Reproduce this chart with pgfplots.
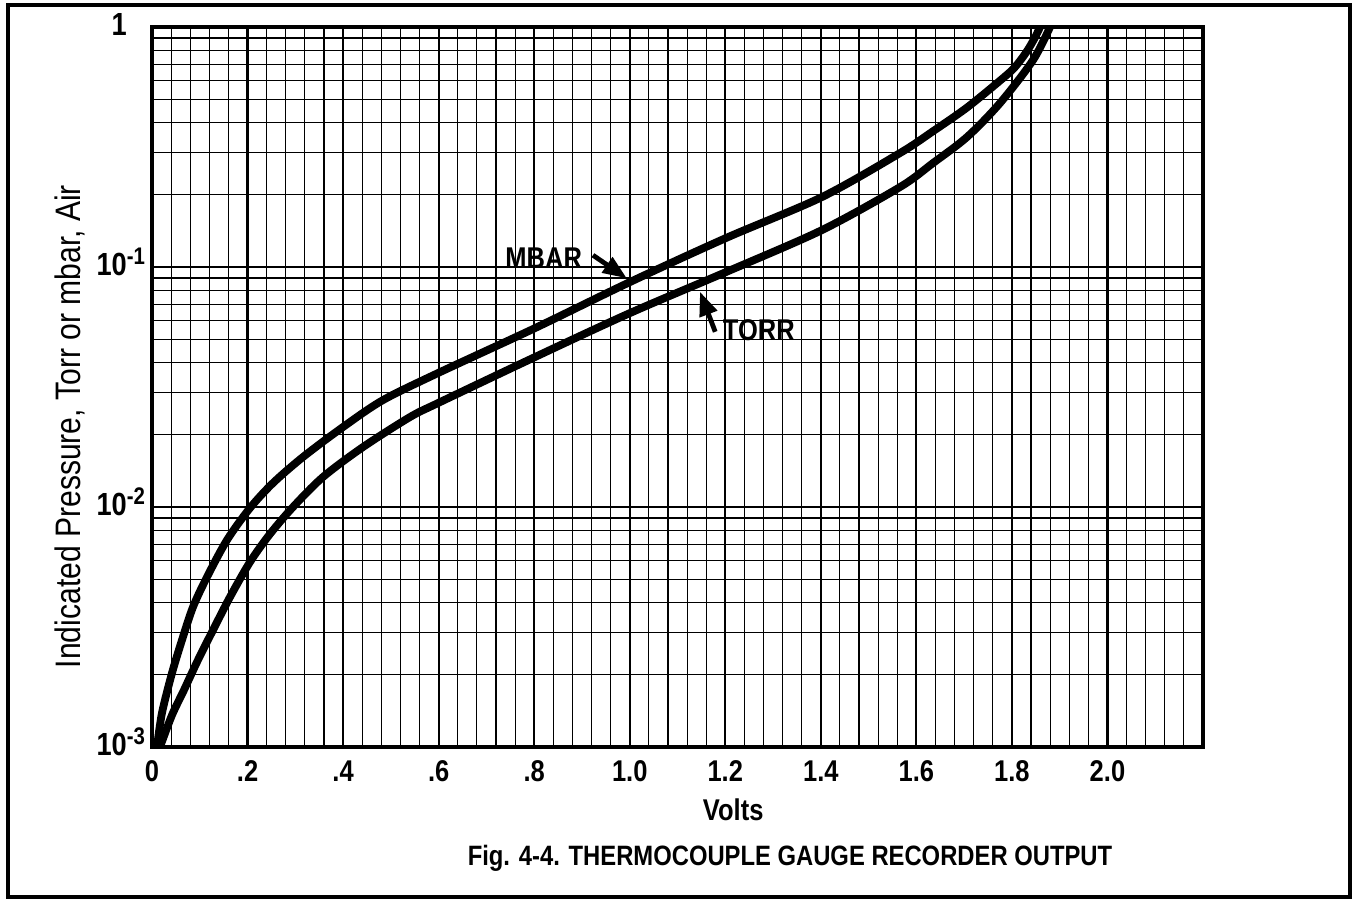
\documentclass[border=0pt]{standalone}
\usepackage{pgfplots}
\pgfplotsset{compat=1.18}
\usepackage{fontspec}
\setmainfont{Liberation Sans}[FakeStretch=0.85]
\usetikzlibrary{arrows.meta}
\newcommand{\supr}[1]{\raisebox{0.62ex}{\fontsize{12}{13}\selectfont #1}}
\begin{document}
\begin{tikzpicture}
\useasboundingbox (-76pt,-78.5pt) rectangle (600.5pt,373.5pt);
\draw[line width=1.6pt] (-72pt,-75pt) rectangle (599pt,371pt);
\begin{axis}[
  at={(0pt,0pt)}, anchor=south west,
  scale only axis, width=525.5pt, height=360pt,
  xmin=0, xmax=2.2, ymin=1e-3, ymax=1, ymode=log,
  xtick={0,0.2,0.4,0.6,0.8,1.0,1.2,1.4,1.6,1.8,2.0,2.2},
  xticklabels={0,.2,.4,.6,.8,1.0,1.2,1.4,1.6,1.8,2.0,{}},
  minor x tick num=4,
  ytick={0.001,0.01,0.1,1},
  minor ytick={0.002,0.003,0.004,0.005,0.006,0.007,0.008,0.009,
               0.02,0.03,0.04,0.05,0.06,0.07,0.08,0.09,
               0.2,0.3,0.4,0.5,0.6,0.7,0.8,0.9},
  yticklabels={10\supr{-3},10\supr{-2},10\supr{-1},1\phantom{\supr{-1}}},
  grid=both,
  major grid style={line width=1.1pt,black},
  minor grid style={line width=0.55pt,black},
  axis line style={line width=1.8pt},
  major tick length=0pt, minor tick length=0pt,
  typeset ticklabels with strut,
  xticklabel style={font=\bfseries\fontsize{15}{17}\selectfont, yshift=-2pt},
  yticklabel style={font=\bfseries\fontsize{16}{18}\selectfont},
  xlabel={Volts},
  xlabel style={at={(axis description cs:0.553,-0.0875)},anchor=center,font=\bfseries\fontsize{15}{17}\selectfont},
  ylabel={Indicated Pressure, Torr or mbar, Air},
  ylabel style={at={(axis description cs:-0.078,0.445)},anchor=center,font=\fontsize{17.7}{20}\selectfont},
  title={Fig. 4-4. THERMOCOUPLE GAUGE RECORDER OUTPUT},
  title style={at={(axis description cs:0.607,-0.171)},anchor=center,font=\bfseries\fontsize{14}{16}\selectfont},
]
% MBAR
\addplot[black, line width=3.9pt, smooth, tension=0.5] coordinates {
(0.0105,0.001) (0.0209,0.001387) (0.0419,0.002034) (0.0628,0.002792) (0.0858,0.003830)
(0.1151,0.005108) (0.1570,0.007286) (0.2052,0.009908) (0.2533,0.01259) (0.3161,0.01616)
(0.3998,0.02154) (0.4836,0.02790) (0.5987,0.03616) (0.8018,0.05566) (1.0006,0.08660)
(1.2016,0.1321) (1.4026,0.1958) (1.5658,0.2985) (1.6349,0.368) (1.7061,0.462)
(1.7752,0.598) (1.8050,0.676) (1.8300,0.785) (1.8480,0.902) (1.8589,1.0)
};
% TORR
\addplot[black, line width=3.9pt, smooth, tension=0.5] coordinates {
(0.0167,0.001) (0.0419,0.001359) (0.0670,0.001728) (0.0942,0.002260) (0.1256,0.003013)
(0.1633,0.004217) (0.2052,0.005902) (0.2470,0.007719) (0.2952,0.0100) (0.3580,0.01334)
(0.4417,0.01778) (0.5401,0.02371) (0.5987,0.02711) (0.8018,0.04217) (1.0006,0.06431)
(1.2016,0.09530) (1.4026,0.1426) (1.5658,0.2154) (1.6349,0.2712) (1.7061,0.3481)
(1.7752,0.4822) (1.8443,0.7286) (1.8798,1.0)
};
\draw[line width=2.4pt,-{Triangle[length=12pt,width=9pt]}] (axis cs:0.923,0.112) -- (axis cs:0.994,0.0897);
\node[anchor=east,inner sep=1pt,font=\bfseries\fontsize{15}{17}\selectfont] at (axis cs:0.905,0.109) {MBAR};
\draw[line width=2.4pt,-{Triangle[length=12pt,width=9pt]}] (axis cs:1.179,0.0537) -- (axis cs:1.147,0.0789);
\node[anchor=west,inner sep=1pt,font=\bfseries\fontsize{15}{17}\selectfont] at (axis cs:1.190,0.0547) {TORR};
\end{axis}
\end{tikzpicture}
\end{document}
